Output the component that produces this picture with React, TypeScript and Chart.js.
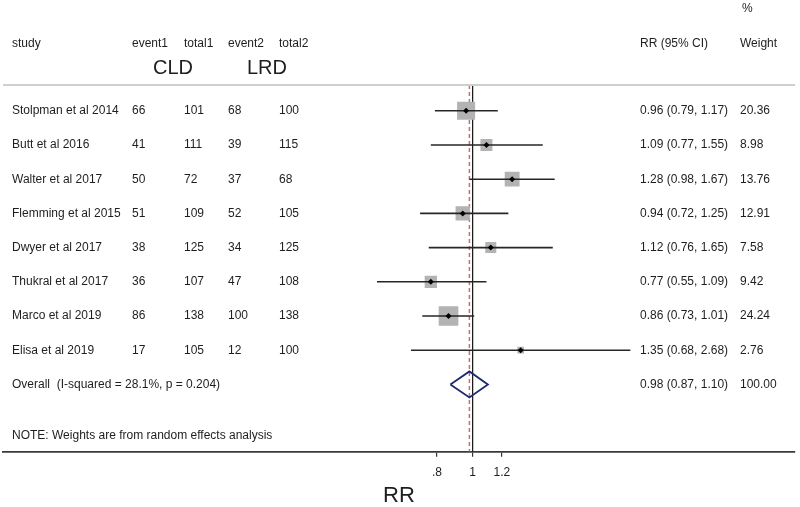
import React, { useEffect, useRef } from 'react';
import { Chart, registerables } from 'chart.js';

Chart.register(...registerables);

// ---------- data ----------
const studies = [
  'Stolpman et al 2014',
  'Butt et al 2016',
  'Walter et al 2017',
  'Flemming et al 2015',
  'Dwyer et al 2017',
  'Thukral et al 2017',
  'Marco et al 2019',
  'Elisa et al 2019',
];
const event1 = [66, 41, 50, 51, 38, 36, 86, 17];
const total1 = [101, 111, 72, 109, 125, 107, 138, 105];
const event2 = [68, 39, 37, 52, 34, 47, 100, 12];
const total2 = [100, 115, 68, 105, 125, 108, 138, 100];
const rr = [0.96, 1.09, 1.28, 0.94, 1.12, 0.77, 0.86, 1.35];
const lower = [0.79, 0.77, 0.98, 0.72, 0.76, 0.55, 0.73, 0.68];
const upper = [1.17, 1.55, 1.67, 1.25, 1.65, 1.09, 1.01, 2.68];
const weights = [20.36, 8.98, 13.76, 12.91, 7.58, 9.42, 24.24, 2.76];

const overallRR = [0.98];
const overallCI = [0.87, 1.1];
const overallWeight = [100.0];
const overallLabel = 'Overall  (I-squared = 28.1%, p = 0.204)';
const noteText = 'NOTE: Weights are from random effects analysis';

const xTicks = [0.8, 1, 1.2];
const xTickLabels = ['.8', '1', '1.2'];
const headerLabels = ['study', 'event1', 'total1', 'event2', 'total2', 'RR (95% CI)', 'Weight'];
const groupLabels = ['CLD', 'LRD'];
const axisTitle = 'RR';

// ---------- layout ----------
const ROW_MIN = 0.246;
const ROW_MAX = 10.968;
const OVERALL_ROW = 9;
const NOTE_ROW = 10.5;
const DIAMOND_HALF = 0.38;
const X_MIN = 0.0531;
const X_MAX = 7.5;
const colX = [12, 132, 184, 228, 279, 640, 740];
const groupX = [173, 267];
const FONT = '"Liberation Sans", Arial, Helvetica, sans-serif';
const TEXT_COLOR = '#1e1e1e';

const fmt = (v: number) => v.toFixed(2);

const tablePlugin = {
  id: 'forestTable',
  afterDraw(chart: any) {
    const ctx = chart.ctx as CanvasRenderingContext2D;
    const area = chart.chartArea;
    const y = chart.scales.y;
    ctx.save();
    // header separator line
    ctx.strokeStyle = '#cfcfcf';
    ctx.lineWidth = 2;
    ctx.beginPath();
    ctx.moveTo(area.left, area.top);
    ctx.lineTo(area.right, area.top);
    ctx.stroke();

    ctx.fillStyle = TEXT_COLOR;
    ctx.textBaseline = 'middle';
    ctx.textAlign = 'left';
    ctx.font = `12px ${FONT}`;

    // headers
    const hy = area.top - 41.7;
    headerLabels.forEach((h, i) => ctx.fillText(h, colX[i], hy));
    ctx.fillText('%', colX[6] + 2, area.top - 76);

    // group labels
    ctx.font = `20px ${FONT}`;
    ctx.textAlign = 'center';
    groupLabels.forEach((g, i) => ctx.fillText(g, groupX[i], area.top - 17));

    // study rows
    ctx.font = `12px ${FONT}`;
    ctx.textAlign = 'left';
    studies.forEach((s, i) => {
      const py = y.getPixelForValue(i + 1);
      ctx.fillText(s, colX[0], py);
      ctx.fillText(String(event1[i]), colX[1], py);
      ctx.fillText(String(total1[i]), colX[2], py);
      ctx.fillText(String(event2[i]), colX[3], py);
      ctx.fillText(String(total2[i]), colX[4], py);
      ctx.fillText(`${fmt(rr[i])} (${fmt(lower[i])}, ${fmt(upper[i])})`, colX[5], py);
      ctx.fillText(fmt(weights[i]), colX[6], py);
    });

    const oy = y.getPixelForValue(OVERALL_ROW);
    ctx.fillText(overallLabel, colX[0], oy);
    ctx.fillText(`${fmt(overallRR[0])} (${fmt(overallCI[0])}, ${fmt(overallCI[1])})`, colX[5], oy);
    ctx.fillText(fmt(overallWeight[0]), colX[6], oy);

    ctx.fillText(noteText, colX[0], y.getPixelForValue(NOTE_ROW));
    ctx.restore();
  },
};

export default function App() {
  const ref = useRef<HTMLCanvasElement | null>(null);

  useEffect(() => {
    if (!ref.current) return;
    const rows = studies.map((_, i) => i + 1);

    const ciDatasets = rows.map((r, i) => ({
      type: 'line' as const,
      data: [
        { x: lower[i], y: r },
        { x: upper[i], y: r },
      ],
      borderColor: '#262626',
      borderWidth: 1.6,
      pointRadius: 0,
      order: 3,
    }));

    const o = overallRR[0];
    const diamond = {
      type: 'line' as const,
      data: [
        { x: overallCI[0], y: OVERALL_ROW },
        { x: o, y: OVERALL_ROW - DIAMOND_HALF },
        { x: overallCI[1], y: OVERALL_ROW },
        { x: o, y: OVERALL_ROW + DIAMOND_HALF },
        { x: overallCI[0], y: OVERALL_ROW },
      ],
      borderColor: '#1f2a6e',
      borderWidth: 1.8,
      pointRadius: 0,
      tension: 0,
      order: 2,
    };

    const chart = new Chart(ref.current, {
      type: 'scatter',
      data: {
        datasets: [
          // null line at 1
          {
            type: 'line',
            data: [
              { x: 1, y: ROW_MIN },
              { x: 1, y: ROW_MAX },
            ],
            borderColor: '#111111',
            borderWidth: 1.2,
            pointRadius: 0,
            order: 6,
          },
          // overall effect dashed line
          {
            type: 'line',
            data: [
              { x: o, y: ROW_MIN },
              { x: o, y: ROW_MAX },
            ],
            borderColor: '#c0736c',
            borderWidth: 1.5,
            borderDash: [4, 3],
            pointRadius: 0,
            order: 5,
          },
          // weight squares
          {
            type: 'scatter',
            data: rows.map((r, i) => ({ x: rr[i], y: r })),
            pointStyle: 'rect',
            pointRadius: weights.map((w) => (4 * Math.sqrt(w)) / Math.SQRT2),
            backgroundColor: '#b3b3b3',
            borderWidth: 0,
            order: 4,
          },
          ...ciDatasets,
          diamond,
          // point estimates
          {
            type: 'scatter',
            data: rows.map((r, i) => ({ x: rr[i], y: r })),
            pointStyle: 'rectRot',
            pointRadius: 3,
            backgroundColor: '#000000',
            borderWidth: 0,
            order: 1,
          },
        ] as any,
      },
      options: {
        responsive: false,
        animation: false,
        events: [],
        layout: { autoPadding: false, padding: { top: 85, left: 3, right: 5, bottom: -2 } },
        plugins: {
          legend: { display: false },
          tooltip: { enabled: false },
        },
        scales: {
          x: {
            type: 'logarithmic',
            position: 'bottom',
            min: X_MIN,
            max: X_MAX,
            afterBuildTicks: (scale: any) => {
              scale.ticks = xTicks.map((v) => ({ value: v }));
            },
            afterFit: (scale: any) => {
              scale.height = 57.3;
            },
            grid: {
              display: true,
              drawOnChartArea: false,
              drawTicks: true,
              tickLength: 5,
              color: '#333333',
              lineWidth: 1.2,
            },
            border: { display: true, color: '#3a3a3a', width: 1.8 },
            ticks: {
              autoSkip: false,
              maxRotation: 0,
              padding: 9,
              color: TEXT_COLOR,
              font: { family: FONT, size: 12 },
              callback: (v: any) => {
                const idx = xTicks.indexOf(Number(v));
                return idx >= 0 ? xTickLabels[idx] : '';
              },
            },
            title: {
              display: true,
              text: axisTitle,
              color: TEXT_COLOR,
              font: { family: FONT, size: 22 },
              padding: { top: 3, bottom: 0 },
            },
          },
          y: {
            type: 'linear',
            display: false,
            reverse: true,
            min: ROW_MIN,
            max: ROW_MAX,
          },
        },
      } as any,
      plugins: [tablePlugin],
    });

    return () => chart.destroy();
  }, []);

  return (
    <div style={{ position: 'fixed', left: 0, top: 0, width: 800, height: 507, background: '#ffffff' }}>
      <canvas ref={ref} width={800} height={507} />
    </div>
  );
}
